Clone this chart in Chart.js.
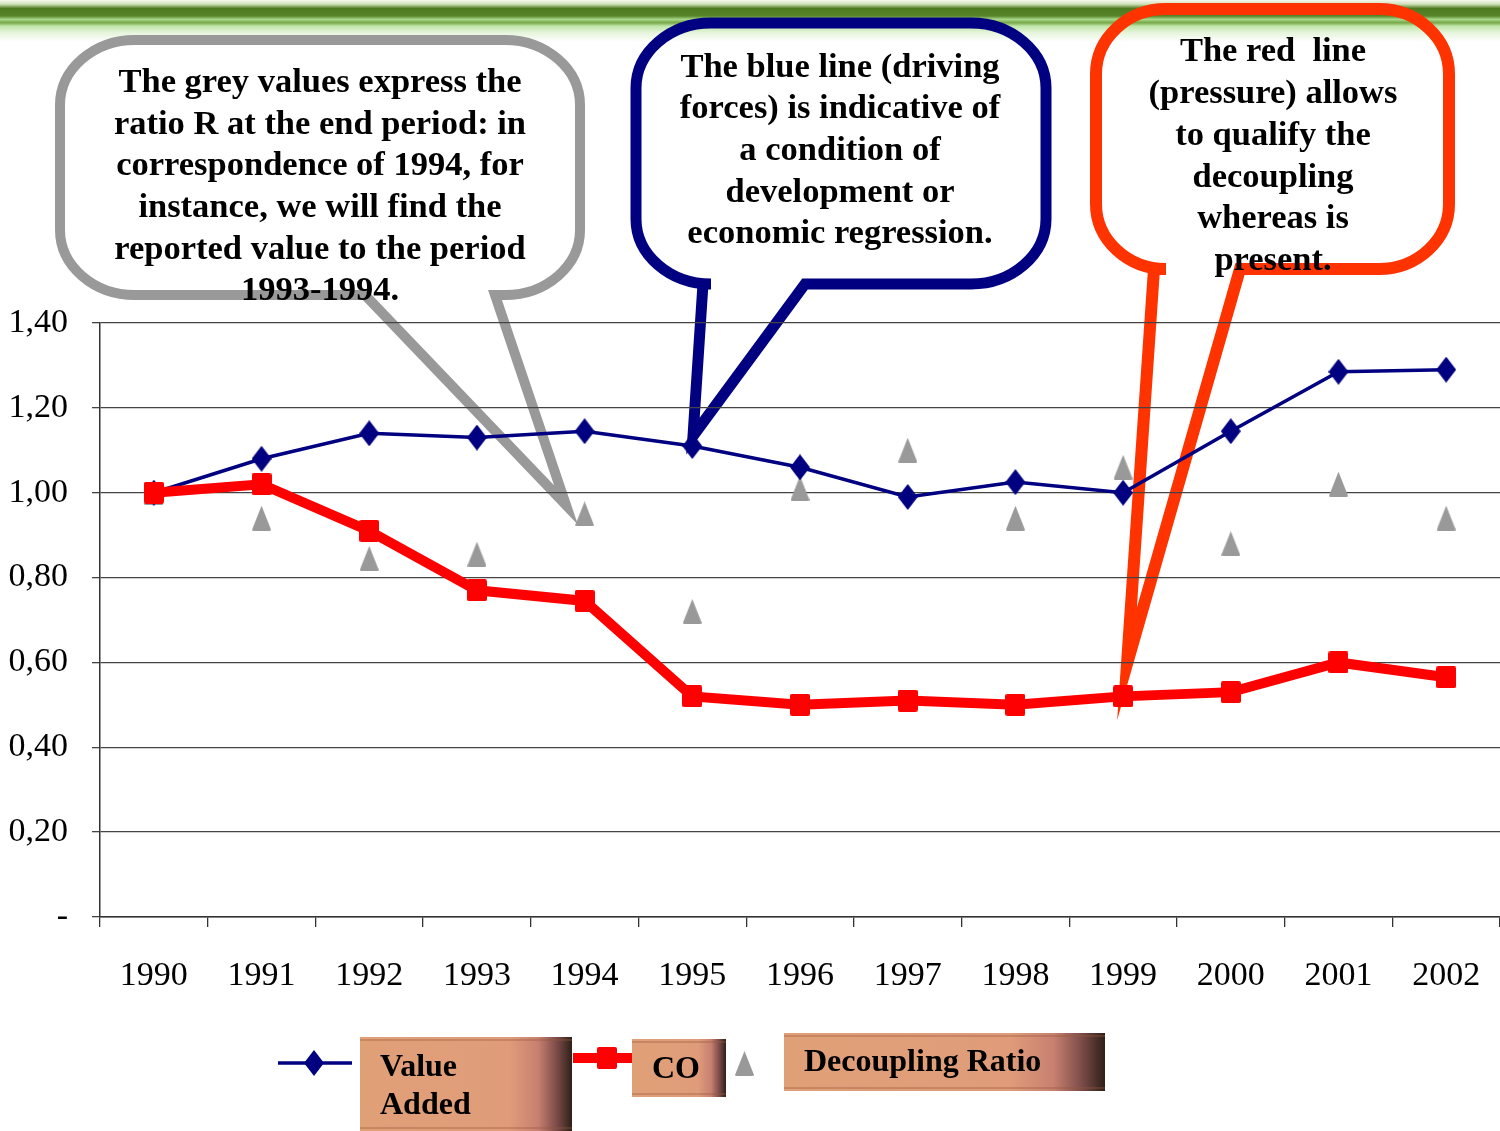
<!DOCTYPE html>
<html>
<head>
<meta charset="utf-8">
<script src="https://cdn.jsdelivr.net/npm/chart.js@4.4.1/dist/chart.umd.min.js"></script>
<style>
  body { margin: 0; background: #fff; }
  #wrap { width: 1500px; height: 1131px; }
</style>
</head>
<body>
<div id="wrap"><canvas id="decouplingChart" width="1500" height="1131"></canvas></div>
<script>
// data
const years = ["1990", "1991", "1992", "1993", "1994", "1995", "1996", "1997", "1998", "1999", "2000", "2001", "2002"];
const valueAdded = [1.00, 1.08, 1.14, 1.13, 1.145, 1.11, 1.06, 0.99, 1.025, 1.00, 1.145, 1.285, 1.29];
const co = [1.00, 1.02, 0.91, 0.77, 0.745, 0.52, 0.50, 0.51, 0.50, 0.52, 0.53, 0.60, 0.565];
const decouplingRatio = [1.00, 0.94, 0.845, 0.855, 0.95, 0.72, 1.01, 1.10, 0.94, 1.06, 0.88, 1.02, 0.94];
const yTicks = [0, 0.2, 0.4, 0.6, 0.8, 1.0, 1.2, 1.4];

const seriesNames = ["Value Added", "CO", "Decoupling Ratio"];

const greyNote = ["The grey values express the", "ratio R at the end period: in", "correspondence of 1994, for",
  "instance, we will find the", "reported value to the period", "1993-1994."];
const blueNote = ["The blue line (driving", "forces) is indicative of", "a condition of",
  "development or", "economic regression."];
const redNote = ["The red  line", "(pressure) allows", "to qualify the", "decoupling", "whereas is", "present."];

// point images
function makeDiamond(w, h, color) {
  const c = document.createElement("canvas");
  c.width = w; c.height = h;
  const g = c.getContext("2d");
  g.fillStyle = color;
  g.beginPath();
  g.moveTo(w / 2, 0); g.lineTo(w, h / 2); g.lineTo(w / 2, h); g.lineTo(0, h / 2);
  g.closePath(); g.fill();
  return c;
}
function makeSquare(w, h, color) {
  const c = document.createElement("canvas");
  c.width = w; c.height = h;
  const g = c.getContext("2d");
  g.fillStyle = color;
  g.beginPath();
  g.roundRect(0, 0, w, h, 2);
  g.fill();
  return c;
}
function makeTriangle(w, h, color) {
  const c = document.createElement("canvas");
  c.width = w; c.height = h;
  const g = c.getContext("2d");
  g.fillStyle = color;
  g.beginPath();
  g.moveTo(w / 2, 0); g.lineTo(w, h - 1); g.quadraticCurveTo(w, h, w - 2, h);
  g.lineTo(2, h); g.quadraticCurveTo(0, h, 0, h - 1);
  g.closePath(); g.fill();
  return c;
}

const diamondImg = makeDiamond(20, 26, "#000080");
const squareImg = makeSquare(20, 22, "#ff0000");
const triangleImg = makeTriangle(19, 25, "#999999");

function bubble(ctx, b) {
  const { x0, y0, x1, y1, rx, ry, tl, tr, tip, color, lw } = b;
  ctx.save();
  ctx.strokeStyle = color;
  ctx.lineWidth = lw;
  ctx.lineJoin = "miter";
  ctx.miterLimit = 12;
  ctx.beginPath();
  ctx.moveTo(tr, y1);
  ctx.lineTo(x1 - rx, y1);
  ctx.bezierCurveTo(x1 - rx * 0.45, y1, x1, y1 - ry * 0.45, x1, y1 - ry);
  ctx.lineTo(x1, y0 + ry);
  ctx.bezierCurveTo(x1, y0 + ry * 0.45, x1 - rx * 0.45, y0, x1 - rx, y0);
  ctx.lineTo(x0 + rx, y0);
  ctx.bezierCurveTo(x0 + rx * 0.45, y0, x0, y0 + ry * 0.45, x0, y0 + ry);
  ctx.lineTo(x0, y1 - ry);
  ctx.bezierCurveTo(x0, y1 - ry * 0.45, x0 + rx * 0.45, y1, x0 + rx, y1);
  ctx.lineTo(tl, y1);
  ctx.lineTo(tip[0], tip[1]);
  ctx.closePath();
  ctx.stroke();
  ctx.restore();
}

function noteText(ctx, lines, cx, ys) {
  ctx.save();
  ctx.fillStyle = "#000";
  ctx.font = "bold 34.5px 'Liberation Serif', serif";
  ctx.textAlign = "center";
  ctx.textBaseline = "middle";
  lines.forEach((t, i) => ctx.fillText(t, cx, ys[i]));
  ctx.restore();
}

function legendBox(ctx, x, y, w, h) {
  const g = ctx.createLinearGradient(x, 0, x + w, 0);
  g.addColorStop(0, "#e0a077");
  g.addColorStop(0.7, "#e09c7a");
  g.addColorStop(0.84, "#c88070");
  g.addColorStop(0.93, "#7a4a48");
  g.addColorStop(1, "#2e2018");
  ctx.fillStyle = g;
  ctx.fillRect(x, y, w, h);
  ctx.fillStyle = "rgba(150,90,60,0.35)";
  ctx.fillRect(x, y + 2, w, 2);
  ctx.fillRect(x, y + h - 4, w, 2);
}

// background band, callouts (under the grid and the lines)
const decorations = {
  id: "decorations",
  beforeDraw(chart) {
    const ctx = chart.ctx;
    ctx.save();
    ctx.fillStyle = "#fff";
    ctx.fillRect(0, 0, chart.width, chart.height);
    const band = ctx.createLinearGradient(0, 0, 0, 42);
    band.addColorStop(0, "#f6f9ee");
    band.addColorStop(0.1, "#cfe0b8");
    band.addColorStop(0.2, "#4e7a1e");
    band.addColorStop(0.38, "#57852a");
    band.addColorStop(0.46, "#a8d88a");
    band.addColorStop(0.54, "#78a848");
    band.addColorStop(0.62, "#bfe6a8");
    band.addColorStop(0.78, "#e6f4dc");
    band.addColorStop(1, "#ffffff");
    ctx.fillStyle = band;
    ctx.fillRect(0, 0, chart.width, 42);

    bubble(ctx, { x0: 60, y0: 40, x1: 580, y1: 295, rx: 75, ry: 65, tl: 365, tr: 495, tip: [566, 505], color: "#999999", lw: 10 });
    bubble(ctx, { x0: 636, y0: 23, x1: 1046, y1: 284, rx: 75, ry: 65, tl: 703, tr: 805, tip: [693, 436], color: "#000080", lw: 11 });
    bubble(ctx, { x0: 1096, y0: 9, x1: 1449, y1: 269, rx: 70, ry: 65, tl: 1154, tr: 1240, tip: [1127, 664], color: "#ff3300", lw: 12 });
    ctx.restore();
  },
  afterDraw(chart) {
    const ctx = chart.ctx;
    ctx.save();
    noteText(ctx, greyNote, 320, [83, 125, 166, 208, 250, 291]);
    noteText(ctx, blueNote, 840, [68, 109, 151, 193, 234]);
    noteText(ctx, redNote, 1273, [52, 94, 136, 178, 219, 261]);

    // legend
    ctx.lineWidth = 3.5;
    ctx.strokeStyle = "#000080";
    ctx.beginPath(); ctx.moveTo(278, 1063); ctx.lineTo(352, 1063); ctx.stroke();
    ctx.drawImage(diamondImg, 304, 1050);
    legendBox(ctx, 360, 1037, 212, 94);

    ctx.lineWidth = 10;
    ctx.strokeStyle = "#ff0000";
    ctx.beginPath(); ctx.moveTo(573, 1058); ctx.lineTo(632, 1058); ctx.stroke();
    ctx.drawImage(squareImg, 597, 1047);
    legendBox(ctx, 632, 1039, 94, 58);

    ctx.drawImage(triangleImg, 735, 1051);
    legendBox(ctx, 784, 1033, 321, 58);

    ctx.fillStyle = "#000";
    ctx.font = "bold 32px 'Liberation Serif', serif";
    ctx.textAlign = "left";
    ctx.textBaseline = "middle";
    ctx.fillText("Value", 380, 1068);
    ctx.fillText("Added", 380, 1106);
    ctx.fillText(seriesNames[1], 652, 1070);
    ctx.fillText(seriesNames[2], 804, 1063);
    ctx.restore();
  }
};

const canvas = document.getElementById("decouplingChart").getContext("2d");
const myChart = new Chart(canvas, {
  type: "line",
  data: {
    labels: years,
    datasets: [
      {
        label: seriesNames[1],
        data: co,
        borderColor: "#ff0000",
        borderWidth: 10,
        pointStyle: squareImg,
        order: 0,
      },
      {
        label: seriesNames[0],
        data: valueAdded,
        borderColor: "#000080",
        borderWidth: 3.5,
        pointStyle: diamondImg,
        order: 1,
      },
      {
        label: seriesNames[2],
        data: decouplingRatio,
        showLine: false,
        pointStyle: triangleImg,
        order: 2,
      },
    ],
  },
  options: {
    responsive: false,
    animation: false,
    events: [],
    layout: { autoPadding: false, padding: { top: 323, left: 0, right: 0, bottom: 0 } },
    elements: { line: { tension: 0 } },
    plugins: {
      legend: { display: false },
      tooltip: { enabled: false },
    },
    scales: {
      x: {
        offset: true,
        grid: { drawOnChartArea: false, offset: true, tickLength: 10, color: "#333", lineWidth: 1.3 },
        border: { color: "#333", width: 1.5 },
        ticks: {
          color: "#000",
          padding: 19,
          maxRotation: 0,
          font: { family: "'Liberation Serif', serif", size: 34, lineHeight: 1.75 },
        },
        afterFit(scale) {
          scale.height = 214;
        },
      },
      y: {
        min: 0,
        max: 1.4,
        afterBuildTicks(scale) { scale.ticks = yTicks.map(v => ({ value: v })); },
        grid: { color: "#444", lineWidth: 1.3, tickLength: 8 },
        border: { color: "#333", width: 1.5 },
        ticks: {
          color: "#000",
          padding: 24,
          font: { family: "'Liberation Serif', serif", size: 34 },
          callback: v => (v === 0 ? "-" : v.toFixed(2).replace(".", ",")),
        },
        afterFit(scale) {
          scale.width = 100;
        },
      },
    },
  },
  plugins: [decorations],
});
</script>
</body>
</html>
